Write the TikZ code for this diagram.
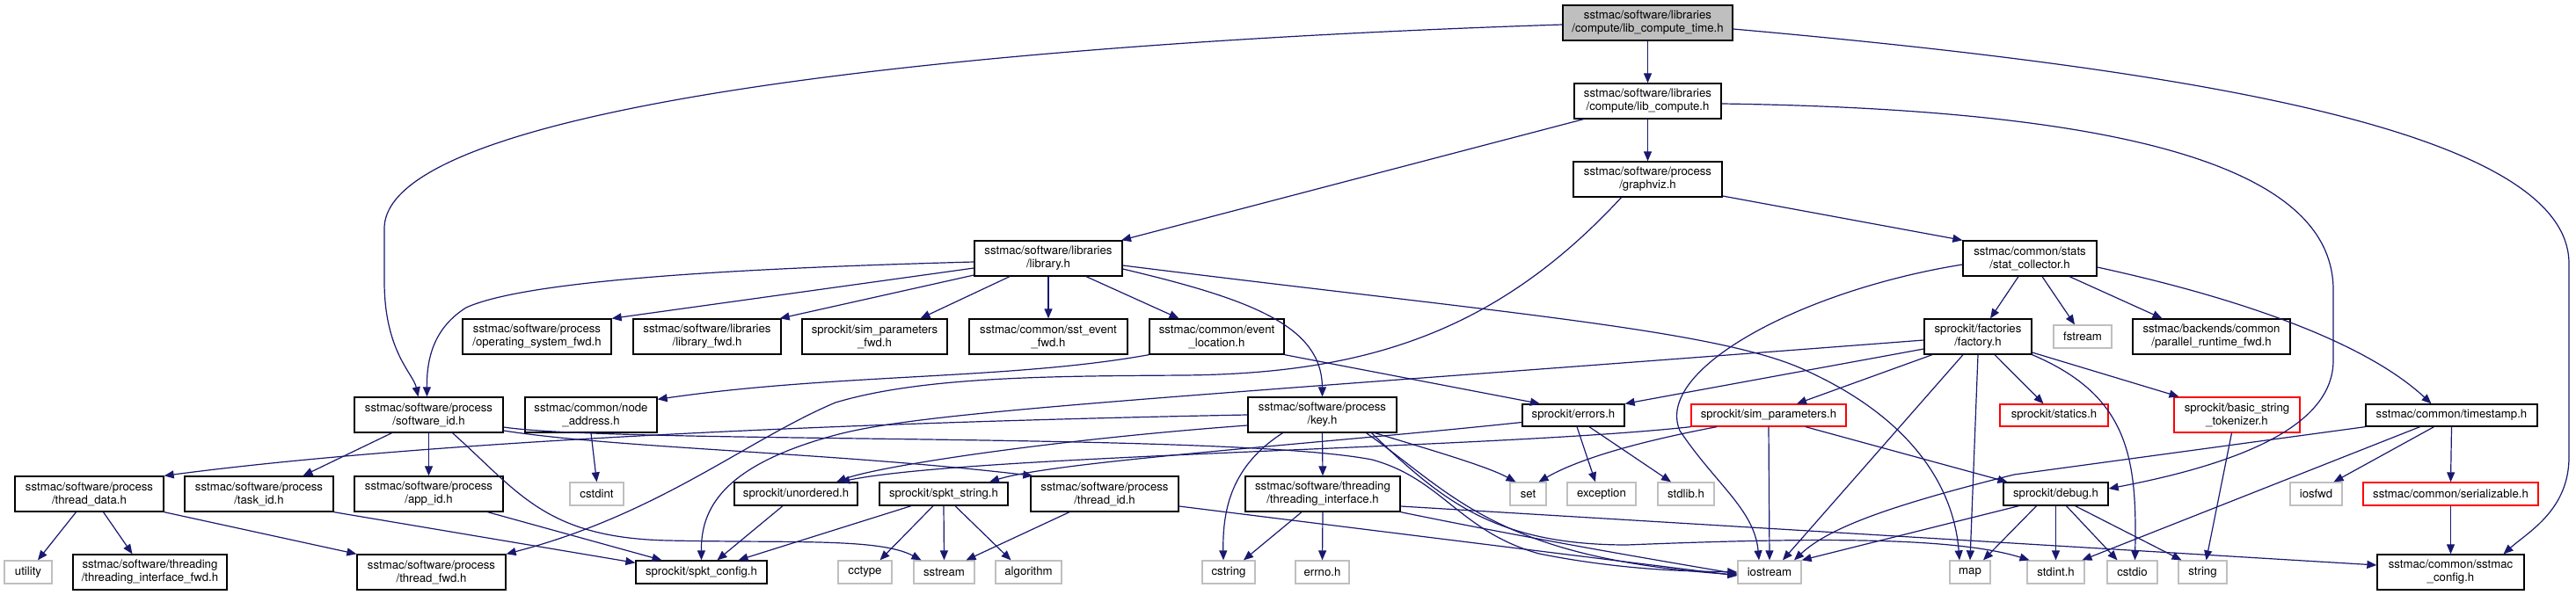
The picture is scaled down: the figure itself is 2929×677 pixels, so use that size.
\documentclass[tikz,border=0pt]{standalone}
\usepackage{fontspec}
\setmainfont{TeX Gyre Heros}
\usetikzlibrary{arrows.meta}
\definecolor{edgec}{HTML}{191970}
\definecolor{sysc}{HTML}{BFBFBF}
\definecolor{rootc}{HTML}{BFBFBF}
\begin{document}
\begin{tikzpicture}[x=1pt,y=-1pt,
  every node/.style={font=\fontsize{13.2pt}{15pt}\selectfont, align=center, inner sep=0pt},
  nb/.style={draw=black, fill=white, line width=1.3pt, minimum height=40pt},
  nb1/.style={draw=black, fill=white, line width=1.3pt, minimum height=26pt},
  sys/.style={draw=sysc, fill=white, line width=1.3pt, minimum height=26pt},
  redb/.style={draw=red, fill=white, line width=1.3pt},
  root/.style={draw=black, fill=rootc, line width=1.3pt, minimum height=40pt},
  edge/.style={draw=edgec, line width=1.2pt, -{Triangle[length=11pt,width=9pt]}}]
\useasboundingbox (0,0) rectangle (2929,677);
\fill[white] (0,0) rectangle (2929,677);

% row 0-3
\node[root, minimum width=193] (lct) at (1873.5,26) {sstmac/software/libraries\\/compute/lib\_compute\_time.h};
\node[nb, minimum width=167] (lc) at (1873.5,115) {sstmac/software/libraries\\/compute/lib\_compute.h};
\node[nb, minimum width=169] (gv) at (1873.5,204) {sstmac/software/process\\/graphviz.h};
\node[nb, minimum width=168] (lib) at (1192,294) {sstmac/software/libraries\\/library.h};
\node[nb, minimum width=152] (sc) at (2308,294) {sstmac/common/stats\\/stat\_collector.h};
% row 4
\node[nb, minimum width=169] (osf) at (610.5,383) {sstmac/software/process\\/operating\_system\_fwd.h};
\node[nb, minimum width=168] (lfwd) at (804,383) {sstmac/software/libraries\\/library\_fwd.h};
\node[nb, minimum width=165] (spf) at (994.5,383) {sprockit/sim\_parameters\\\_fwd.h};
\node[nb, minimum width=180] (sef) at (1192,383) {sstmac/common/sst\_event\\\_fwd.h};
\node[nb, minimum width=153] (el) at (1383.5,383) {sstmac/common/event\\\_location.h};
\node[nb, minimum width=122] (fac) at (2249,383) {sprockit/factories\\/factory.h};
\node[sys, minimum width=66] (fstream) at (2368,383) {fstream};
\node[nb, minimum width=179] (prf) at (2514.5,383) {sstmac/backends/common\\/parallel\_runtime\_fwd.h};
% row 5
\node[nb, minimum width=169] (sid) at (487.5,472) {sstmac/software/process\\/software\_id.h};
\node[nb, minimum width=150] (na) at (672,472) {sstmac/common/node\\\_address.h};
\node[nb, minimum width=169] (key) at (1503.5,472) {sstmac/software/process\\/key.h};
\node[nb1, minimum width=116, minimum height=25] (err) at (1789,472.5) {sprockit/errors.h};
\node[redb, minimum width=176, minimum height=25] (sp) at (2011,472.5) {sprockit/sim\_parameters.h};
\node[redb, minimum width=123, minimum height=25] (statics) at (2335.5,472.5) {sprockit/statics.h};
\node[redb, minimum width=143, minimum height=40] (bst) at (2543.5,472) {sprockit/basic\_string\\\_tokenizer.h};
\node[nb1, minimum width=195, minimum height=25] (ts) at (2787.5,472.5) {sstmac/common/timestamp.h};
% row 6
\node[nb, minimum width=169] (td) at (101.5,562) {sstmac/software/process\\/thread\_data.h};
\node[nb, minimum width=169] (tid) at (294.5,562) {sstmac/software/process\\/task\_id.h};
\node[nb, minimum width=169] (aid) at (487.5,562) {sstmac/software/process\\/app\_id.h};
\node[sys, minimum width=61] (cstdint) at (678.5,562) {cstdint};
\node[nb1, minimum width=140] (unord) at (905,562) {sprockit/unordered.h};
\node[nb1, minimum width=146] (spktstr) at (1073,562) {sprockit/spkt\_string.h};
\node[nb, minimum width=168] (thid) at (1256,562) {sstmac/software/process\\/thread\_id.h};
\node[nb, minimum width=176] (ti) at (1504,562) {sstmac/software/threading\\/threading\_interface.h};
\node[sys, minimum width=41] (set) at (1737.5,562) {set};
\node[sys, minimum width=78] (exc) at (1821,562) {exception};
\node[sys, minimum width=64] (stdlib) at (1917,562) {stdlib.h};
\node[nb1, minimum width=119] (debug) at (2337.5,562) {sprockit/debug.h};
\node[sys, minimum width=59] (iosfwd) at (2633.5,562) {iosfwd};
\node[redb, minimum width=199, minimum height=26] (ser) at (2786.5,562) {sstmac/common/serializable.h};
% row 7
\node[sys, minimum width=54] (util) at (32,651) {utility};
\node[nb, minimum width=175] (tifwd) at (170.5,651) {sstmac/software/threading\\/threading\_interface\_fwd.h};
\node[nb, minimum width=169] (tfwd) at (490.5,651) {sstmac/software/process\\/thread\_fwd.h};
\node[nb1, minimum width=149] (spktcfg) at (797.5,651) {sprockit/spkt\_config.h};
\node[sys, minimum width=61] (cctype) at (983.5,651) {cctype};
\node[sys, minimum width=69] (sstream) at (1073.5,651) {sstream};
\node[sys, minimum width=75] (alg) at (1169.5,651) {algorithm};
\node[sys, minimum width=60] (cstring) at (1397,651) {cstring};
\node[sys, minimum width=61] (errno) at (1503.5,651) {errno.h};
\node[sys, minimum width=72] (iostream) at (2012,651) {iostream};
\node[sys, minimum width=46] (map) at (2240,651) {map};
\node[sys, minimum width=65] (stdint) at (2337.5,651) {stdint.h};
\node[sys, minimum width=57] (cstdio) at (2424.5,651) {cstdio};
\node[sys, minimum width=55] (string) at (2504.5,651) {string};
\node[nb, minimum width=167] (scfg) at (2786.5,651) {sstmac/common/sstmac\\\_config.h};

% edges
\begin{scope}[on background layer/.style={}]
\draw[edge] (lct.south) -- (lc.north);
\draw[edge] (lc.south) -- (gv.north);
\draw[edge] ([xshift=-73]lc.south) -- ([xshift=83]lib.north);
\draw[edge] ([yshift=-3]lc.east) .. controls (2450,125) and (2653,200) .. (2653,330) -- (2653,410) .. controls (2653,480) and (2560,525) .. ([yshift=6]debug.east);
\draw[edge] ([yshift=-2]lct.west) .. controls (1100,50) and (437,120) .. (437,260) -- (437,320) .. controls (437,400) and (470,425) .. ([xshift=-12]sid.north);
\draw[edge] ([yshift=-7]lct.east) .. controls (2500,80) and (2921,150) .. (2921,300) -- (2921,520) .. controls (2921,580) and (2875,605) .. ([xshift=60]scfg.north);
\draw[edge] ([yshift=-19]gv.east) -- (sc.north west);
\draw[edge] ([xshift=-30]gv.south) .. controls (1700,380) and (1550,425) .. (1346,427) .. controls (1200,428) and (1050,428) .. (950,458) .. controls (850,500) and (750,585) .. (tfwd.north east);
\draw[edge] ([yshift=-11]lib.west) -- (osf.north east);
\draw[edge] ([yshift=-19]lib.west) -- ([xshift=-2]lfwd.north east);
\draw[edge] ([xshift=-44]lib.south) -- ([xshift=52]spf.north);
\draw[edge] (lib.south) -- (sef.north);
\draw[edge] ([xshift=43]lib.south) -- ([xshift=-43]el.north);
\draw[edge] ([yshift=-12]lib.east) .. controls (1420,340) and (1503,370) .. (key.north);
\draw[edge] ([yshift=-4]lib.west) .. controls (850,305) and (600,318) .. (530,350) .. controls (495,372) and (485,405) .. ([xshift=-2]sid.north);
\draw[edge] ([yshift=-8]lib.east) .. controls (1700,355) and (1950,375) .. (2050,420) .. controls (2180,478) and (2222,560) .. ([xshift=-12]map.north);
\draw[edge] ([xshift=-13]sc.south) -- ([xshift=14]fac.north);
\draw[edge] ([xshift=14]sc.south) -- ([xshift=-9]fstream.north);
\draw[edge] ([xshift=45]sc.south) -- ([xshift=-56]prf.north);
\draw[edge] ([yshift=-10]sc.east) .. controls (2550,340) and (2690,390) .. ([xshift=-23]ts.north);
\draw[edge] ([yshift=-7]sc.west) .. controls (2050,330) and (1880,420) .. (1910,490) .. controls (1950,550) and (1995,580) .. ([xshift=-12]iostream.north);
\draw[edge] (el.south west) .. controls (1150,432) and (950,425) .. ([yshift=-3]na.north east);
\draw[edge] (el.south east) -- ([xshift=-38]err.north);
\draw[edge] ([yshift=-14]fac.west) -- (err.north east);
\draw[edge] ([yshift=-4]fac.west) .. controls (1300,455) and (1050,468) .. (950,495) .. controls (820,530) and (797,580) .. (spktcfg.north);
\draw[edge] ([xshift=-52]fac.south) -- ([xshift=32]sp.north);
\draw[edge] ([xshift=-17]fac.south) -- ([xshift=15]iostream.north);
\draw[edge] (fac.south) -- (map.north);
\draw[edge] ([xshift=19]fac.south) -- ([xshift=-12]statics.north);
\draw[edge] ([yshift=-18]fac.east) -- ([xshift=-66]bst.north);
\draw[edge] (fac.south east) .. controls (2420,450) and (2430,520) .. ([xshift=3]cstdio.north);
\draw[edge] ([xshift=-42]sid.south) -- ([xshift=50]tid.north);
\draw[edge] (sid.south) -- (aid.north);
\draw[edge] ([xshift=27]sid.south) .. controls (590,560) and (620,612) .. (760,615) .. controls (900,618) and (1000,612) .. ([xshift=-26]sstream.north);
\draw[edge] ([yshift=-18]sid.east) .. controls (700,510) and (950,515) .. ([xshift=3]thid.north west);
\draw[edge] ([yshift=-14]sid.east) .. controls (700,505) and (1400,492) .. (1560,523) .. controls (1640,545) and (1660,605) .. (1750,630) .. controls (1850,650) and (1930,650) .. (iostream.west);
\draw[edge] (key.west) .. controls (1000,480) and (500,500) .. (td.north east);
\draw[edge] ([yshift=-12]key.west) .. controls (1200,500) and (1000,530) .. ([xshift=46]unord.north);
\draw[edge] (sp.south west) .. controls (1700,510) and (1100,518) .. ([xshift=50]unord.north);
\draw[edge] ([yshift=-8]err.west) .. controls (1500,505) and (1200,525) .. ([xshift=52]spktstr.north);
\draw[edge] ([xshift=60]key.south) .. controls (1620,510) and (1690,530) .. ([xshift=-14]set.north);
\draw[edge] ([xshift=50]key.south) .. controls (1650,560) and (1700,635) .. ([yshift=-3]iostream.west);
\draw[edge] ([xshift=56]key.south) .. controls (1640,570) and (1700,620) .. (1850,620) .. controls (2050,612) and (2220,610) .. ([xshift=-30]stdint.north);
\draw[edge] ([xshift=-45]key.south) .. controls (1400,530) and (1390,580) .. ([xshift=-6]cstring.north);
\draw[edge] (key.south) -- (ti.north);
\draw[edge] ([xshift=-59]sp.south) .. controls (1850,505) and (1790,525) .. ([xshift=12]set.north);
\draw[edge] (sp.south) -- (iostream.north);
\draw[edge] ([xshift=42]sp.south) -- ([xshift=-55]debug.north);
\draw[edge] ([xshift=4]err.south) -- ([xshift=-7]exc.north);
\draw[edge] ([xshift=18]err.south) -- ([xshift=-17]stdlib.north);
\draw[edge] (na.south) -- (cstdint.north);
\draw[edge] ([xshift=-15]td.south) -- ([xshift=11]util.north);
\draw[edge] ([xshift=16]td.south) -- ([xshift=-20]tifwd.north);
\draw[edge] (td.south east) -- (tfwd.north west);
\draw[edge] (tid.south east) -- ([yshift=-3]spktcfg.north west);
\draw[edge] ([xshift=67]aid.south) -- ([xshift=-45]spktcfg.north);
\draw[edge] ([xshift=-15]unord.south) -- ([xshift=18]spktcfg.north);
\draw[edge] ([xshift=-37]spktstr.south) -- ([xshift=42]spktcfg.north);
\draw[edge] ([xshift=-12]spktstr.south) -- ([xshift=17]cctype.north);
\draw[edge] (spktstr.south) -- (sstream.north);
\draw[edge] ([xshift=13]spktstr.south) -- ([xshift=-20]alg.north);
\draw[edge] ([xshift=-40]thid.south) -- ([xshift=25]sstream.north);
\draw[edge] ([yshift=-14]thid.east) -- ([yshift=-4]iostream.west);
\draw[edge] ([xshift=-24]ti.south) -- ([xshift=17]cstring.north);
\draw[edge] (ti.south) -- (errno.north);
\draw[edge] (ti.south east) .. controls (1750,615) and (1900,640) .. ([yshift=-2]iostream.west);
\draw[edge] ([yshift=-14]ti.east) -- ([yshift=8]scfg.west);
\draw[edge] ([xshift=-42]debug.south) -- (iostream.north east);
\draw[edge] ([xshift=-22]debug.south) -- ([xshift=15]map.north);
\draw[edge] (debug.south) -- (stdint.north);
\draw[edge] ([xshift=12]debug.south) -- ([xshift=-17]cstdio.north);
\draw[edge] ([xshift=22]debug.south) -- ([xshift=-24]string.north);
\draw[edge] ([xshift=-6]bst.south) -- ([xshift=4]string.north);
\draw[edge] (ts.south west) -- (2290,540) .. controls (2150,575) and (2080,600) .. ([xshift=28]iostream.north);
\draw[edge] ([xshift=-36]ts.south) -- ([xshift=30]stdint.north);
\draw[edge] ([xshift=-20]ts.south) -- ([xshift=20]iosfwd.north);
\draw[edge] (ts.south) -- (ser.north);
\draw[edge] (ser.south) -- (scfg.north);
\end{scope}
\end{tikzpicture}
\end{document}
